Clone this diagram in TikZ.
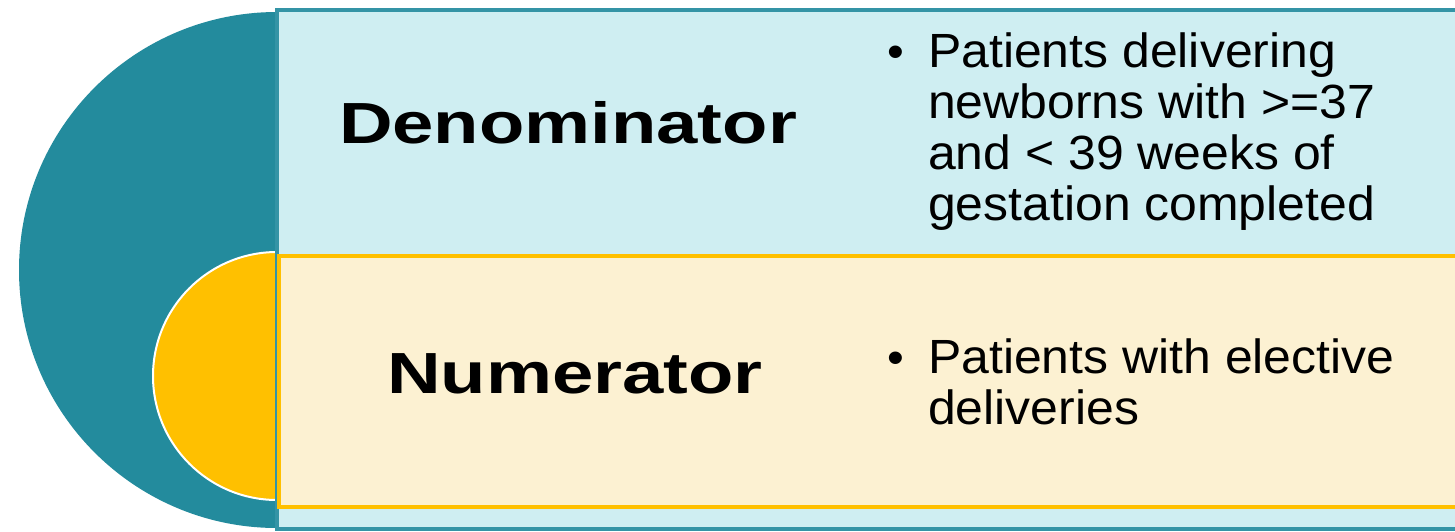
\documentclass[tikz,border=0pt]{standalone}
\usepackage{fontspec}
\setmainfont{Liberation Sans}[FakeStretch=1.04]
\newfontfamily\headfont[FakeStretch=1.28]{Liberation Sans Bold}
\usetikzlibrary{positioning}

\definecolor{darkteal}{RGB}{35,139,157}
\definecolor{tealline}{RGB}{52,148,166}
\definecolor{paleblue}{RGB}{207,238,242}
\definecolor{gold}{RGB}{255,192,0}
\definecolor{paleyellow}{RGB}{252,241,210}

\begin{document}
\begin{tikzpicture}[x=1pt,y=-1pt,
  head/.style={font=\headfont\fontsize{58}{60}\selectfont, anchor=base, inner sep=0pt},
  body/.style={font=\fontsize{48}{51}\selectfont, align=left, anchor=base west, inner sep=0pt},
  dot/.style={font=\fontsize{46}{51}\selectfont, anchor=base, inner sep=0pt}]
\useasboundingbox (0,0) rectangle (1455,531);

% Half discs on the left
\begin{scope}
\clip (0,0) rectangle (277,531);
\fill[darkteal] (277,270) circle[radius=258];
\filldraw[fill=gold, draw=white, line width=2pt] (277,376) circle[radius=124];
\end{scope}

% Bands
\filldraw[fill=paleblue, draw=tealline, line width=3.5pt] (277,10) rectangle (1480,529);
\filldraw[fill=paleyellow, draw=gold, line width=3.5pt] (279,256) rectangle (1480,507);

% Denominator (body anchored at its last line)
\node[head] (den) at (568,143) {Denominator};
\node[dot] (denbullet) at (896,67) {•};
\node[body] (denlist) at (928,220) {Patients delivering\\newborns with >=37\\and < 39 weeks of\\gestation completed};

% Numerator
\node[head] (num) at (575,393) {Numerator};
\node[dot] (numbullet) at (896,373) {•};
\node[body] (numlist) at (928,424) {Patients with elective\\deliveries};
\end{tikzpicture}
\end{document}
